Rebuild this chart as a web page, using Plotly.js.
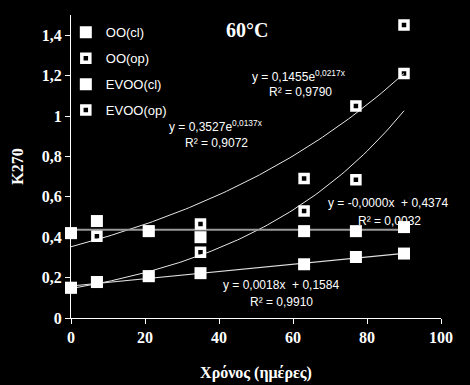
<!DOCTYPE html>
<html>
<head>
<meta charset="utf-8">
<script src="https://cdn.plot.ly/plotly-3.0.1.min.js"></script>
<style>html,body{margin:0;padding:0;background:#000;}#chart{width:470px;height:385px;}</style>
</head>
<body>
<div id="chart"></div>
<script>
// Days of measurement
const days = [0, 7, 21, 35, 63, 77, 90];
// Series values (K270)
const ooCl   = [0.42, 0.48, 0.43, 0.40, 0.43, 0.43, 0.45];
const ooOp   = [0.42, 0.405, 0.43, 0.465, 0.69, 1.05, 1.21];
const evooCl = [0.15, 0.178, 0.207, 0.222, 0.266, 0.302, 0.319];
const evooOp = [0.15, 0.178, 0.207, 0.325, 0.53, 0.685, 1.45];
const seriesNames = ["OO(cl)", "OO(op)", "EVOO(cl)", "EVOO(op)"];
// Trendline coefficients as printed on the chart
const expOO   = [0.3527, 0.0137];   // y = a e^(b x)
const expEVOO = [0.1455, 0.0217];
const linOO   = [-0.0000, 0.4374];  // y = m x + c
const linEVOO = [0.0018, 0.1584];
const trendX  = [0, 90];
// Labels
const eqLabels = [
  "y = 0,1455e<sup>0,0217x</sup>", "R² = 0,9790",
  "y = 0,3527e<sup>0,0137x</sup>", "R² = 0,9072",
  "y = -0,0000x  + 0,4374", "R² = 0,0032",
  "y = 0,0018x  + 0,1584", "R² = 0,9910"
];

const xs = [];
for (let x = trendX[0]; x <= trendX[1]; x += 1) xs.push(x);
const expY = (c) => xs.map(x => c[0] * Math.exp(c[1] * x));
const linY = (c) => xs.map(x => c[0] * x + c[1]);

const sans = "Liberation Sans, Arial, sans-serif";
const serif = "Liberation Serif, Times New Roman, serif";

const trend = (y, color, w) => ({x: xs, y: y, mode: "lines", showlegend: false, hoverinfo: "skip",
  line: {color: color, width: w}, cliponaxis: false});

const openM = {symbol: "square-open", size: 8, color: "#fff", line: {color: "#fff", width: 3.5}};
const fillM = {symbol: "square", size: 12, color: "#fff", line: {width: 0}};

const data = [
  trend(expY(expOO), "#e8e8e8", 1),
  trend(expY(expEVOO), "#e8e8e8", 1),
  trend(linY(linOO), "#9a9a9a", 2),
  trend(linY(linEVOO), "#e0e0e0", 1.2),
  {x: days, y: ooOp, name: seriesNames[1], mode: "markers", marker: openM, legendrank: 2, legendgroup: "b", cliponaxis: false},
  {x: days, y: evooOp, name: seriesNames[3], mode: "markers", marker: openM, legendrank: 4, legendgroup: "d", cliponaxis: false},
  {x: days, y: ooCl, name: seriesNames[0], mode: "markers", marker: fillM, legendrank: 1, legendgroup: "a", cliponaxis: false},
  {x: days, y: evooCl, name: seriesNames[2], mode: "markers", marker: fillM, legendrank: 3, legendgroup: "c", cliponaxis: false}
];

const annPos = [[299, 76], [300, 92], [216, 126], [216, 143], [388, 203], [389, 221], [281, 285], [281, 302]];
const W = 470, H = 385;
const annotations = eqLabels.map((t, i) => ({
  text: t, xref: "paper", yref: "paper",
  x: (annPos[i][0] - 71) / 370, y: (318 - annPos[i][1]) / 303,
  xanchor: "center", yanchor: "middle", showarrow: false,
  font: {family: sans, size: 12, color: "#fff"}
}));
annotations.push({
  text: "<b>60°C</b>", xref: "paper", yref: "paper",
  x: (247 - 71) / 370, y: (318 - 30) / 303, xanchor: "center", yanchor: "middle",
  showarrow: false, font: {family: serif, size: 20, color: "#fff"}
});

const layout = {
  width: W, height: H,
  paper_bgcolor: "#000", plot_bgcolor: "#000",
  margin: {l: 71, r: 29, t: 15, b: 67},
  separators: ",.",
  showlegend: true,
  legend: {x: -0.014, y: 0.992, xanchor: "left", yanchor: "top", bgcolor: "rgba(0,0,0,0)",
    font: {family: sans, size: 13, color: "#fff"}, tracegroupgap: 6, traceorder: "grouped"},
  xaxis: {range: [0, 100], dtick: 20, tick0: 0, showgrid: false, zeroline: false,
    showline: true, linecolor: "#fff", linewidth: 1, ticks: "outside", ticklen: 5, tickcolor: "#fff",
    tickfont: {family: serif, size: 16, color: "#fff", weight: "bold"},
    title: {text: "<b>Χρόνος (ημέρες)</b>", font: {family: serif, size: 16, color: "#fff"}, standoff: 21}},
  yaxis: {range: [0, 1.5], dtick: 0.2, tick0: 0, showgrid: false, zeroline: false,
    showline: true, linecolor: "#fff", linewidth: 1, ticks: "outside", ticklen: 5, tickcolor: "#fff",
    tickfont: {family: serif, size: 16, color: "#fff", weight: "bold"},
    title: {text: "<b>K270</b>", font: {family: serif, size: 16, color: "#fff"}, standoff: 14}},
  annotations: annotations
};

Plotly.newPlot("chart", data, layout, {staticPlot: true, displayModeBar: false});
</script>
</body>
</html>
